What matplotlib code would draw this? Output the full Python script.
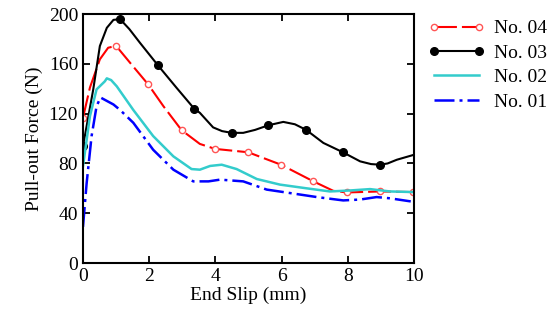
import matplotlib
matplotlib.use("Agg")
import matplotlib.pyplot as plt

plt.rcParams['font.family'] = ['Liberation Serif', 'DejaVu Serif']

# === 数据 ===
# No. 04 曲线
x04 = [0, 0.21, 0.51, 0.76, 1.0, 1.42, 1.97, 2.43, 2.98, 3.53, 3.99, 4.99, 5.98, 6.96, 7.56, 7.97, 8.97, 9.98]
y04 = [116.7, 141, 163.7, 173, 174.5, 161, 143.5, 126, 106.7, 95.7, 91.7, 89, 79, 65.6, 58, 56.7, 57.5, 57]
mx04 = [0, 1.0, 1.97, 2.98, 3.99, 4.99, 5.98, 6.96, 7.97, 8.97, 9.98]
my04 = [116.7, 174.5, 143.5, 106.7, 91.7, 89, 79, 65.6, 56.7, 57.5, 57]

# No. 03 曲线
x03 = [0, 0.31, 0.51, 0.72, 0.92, 1.12, 1.4, 1.72, 2.26, 2.82, 3.36, 3.53, 3.93, 4.2, 4.49, 4.84,
       5.2, 5.6, 6.05, 6.4, 6.74, 7.26, 7.85, 8.37, 8.7, 8.97, 9.2, 9.48, 10.0]
y03 = [93.8, 139.5, 174.4, 189, 195.4, 196, 188, 177, 159, 141, 124, 120.7, 109, 106, 104.6, 104.6,
       107, 110.7, 113.4, 111.5, 107, 96.5, 89, 81.7, 79.5, 79, 80, 83, 87]
mx03 = [0, 1.12, 2.26, 3.36, 4.49, 5.6, 6.74, 7.85, 8.97]
my03 = [93.8, 196, 159, 124, 104.6, 110.7, 107, 89, 79]

# No. 02 曲线
x02 = [0, 0.21, 0.41, 0.66, 0.72, 0.85, 1.02, 1.52, 2.12, 2.73, 3.28, 3.53, 3.84, 4.19, 4.64, 5.25,
       5.95, 6.76, 7.46, 8.07, 8.67, 9.27, 10.0]
y02 = [77.7, 118, 139.5, 146, 148.4, 147, 142, 123, 102, 85.7, 75.5, 75, 78, 79, 75.5, 67.5,
       63, 60, 57.5, 58.3, 59.4, 57.5, 57]

# No. 01 曲线
x01 = [0, 0.11, 0.26, 0.41, 0.53, 0.92, 1.12, 1.52, 2.12, 2.73, 3.33, 3.79, 4.14, 4.84, 5.55, 6.56,
       7.06, 7.86, 8.37, 8.87, 9.27, 9.9]
y01 = [29, 64, 102, 126, 133, 127.4, 123, 112.7, 91, 75, 65.6, 65.6, 67, 65.6, 59, 55,
       53, 50.3, 51, 53, 52, 49.5]

labels = ['No. 04', 'No. 03', 'No. 02', 'No. 01']
xticks = [0, 2, 4, 6, 8, 10]
yticks = [0, 40, 80, 120, 160, 200]

RED_DASH = (0, (11, 2.4))
BLUE_DASH = (0, (8, 2, 1.2, 2))

# === 绘图 ===
fig = plt.figure(figsize=(5.47, 3.29), dpi=100)
ax = fig.add_axes([0.1517, 0.2006, 0.6053, 0.7564])

ax.plot(x04, y04, color='red', lw=1.5, ls=RED_DASH)
ax.plot(mx04, my04, ls='none', marker='o', ms=4.5, mfc='white', mec='#ff5555', mew=1.0)
ax.plot(x03, y03, color='black', lw=1.5)
ax.plot(mx03, my03, ls='none', marker='o', ms=5.5, color='black')
ax.plot(x02, y02, color='#33cccc', lw=1.8)
ax.plot(x01, y01, color='blue', lw=1.8, ls=BLUE_DASH)

# 图例句柄
h04, = ax.plot([], [], color='red', lw=1.5, ls=RED_DASH, marker='o', ms=4.5,
               mfc='white', mec='#ff5555', mew=1.0)
h03, = ax.plot([], [], color='black', lw=1.5, marker='o', ms=5.5)
h02, = ax.plot([], [], color='#33cccc', lw=1.8)
h01, = ax.plot([], [], color='blue', lw=1.8, ls=BLUE_DASH)
fig.legend([h04, h03, h02, h01], labels,
           loc='upper left', bbox_to_anchor=(428 / 547, 0.94), frameon=False,
           borderaxespad=0, borderpad=0,
           fontsize=14, numpoints=2, handlelength=2.9, handletextpad=0.5,
           labelspacing=0.35)

ax.set_xlim(0, 10)
ax.set_ylim(0, 200)
ax.set_xticks(xticks)
ax.set_yticks(yticks)
ax.tick_params(direction='in', length=5, width=1.3, top=True, right=True, labelsize=14)
for s in ax.spines.values():
    s.set_linewidth(1.5)
ax.set_xlabel('End Slip (mm)', fontsize=14, labelpad=1)
ax.set_ylabel('Pull-out Force (N)', fontsize=14, labelpad=4)

fig.savefig('out.png', dpi=100)
